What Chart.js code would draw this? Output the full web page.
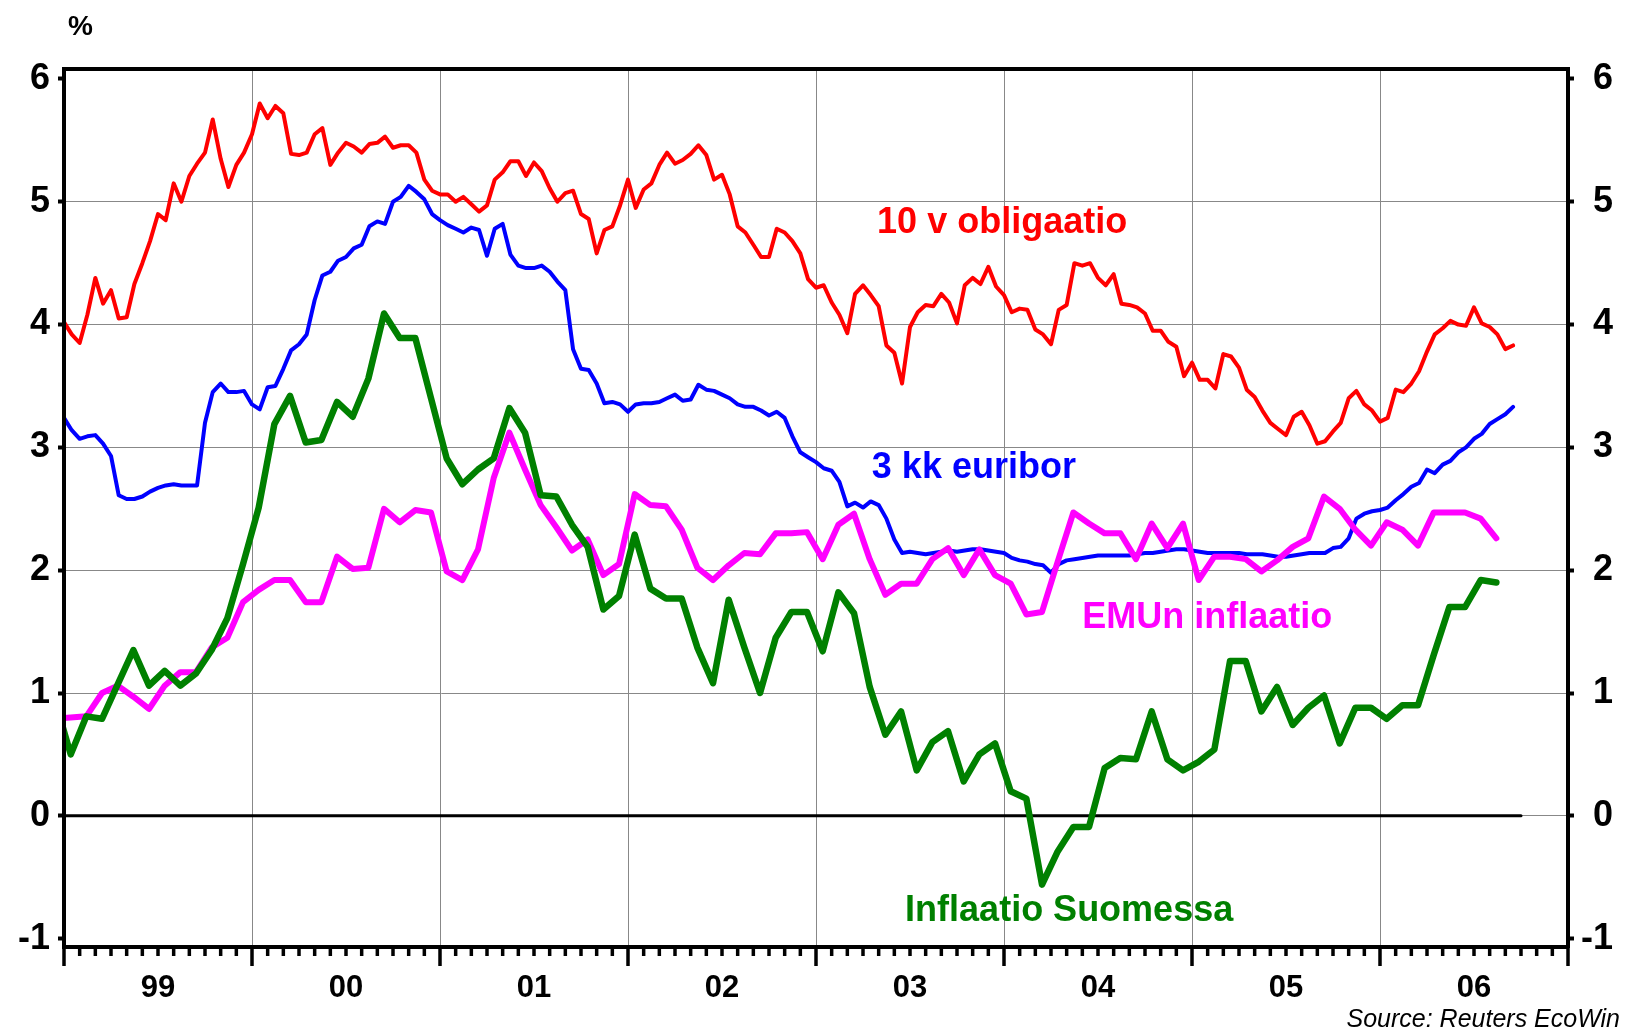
<!DOCTYPE html>
<html>
<head>
<meta charset="utf-8">
<script src="https://cdn.jsdelivr.net/npm/chart.js@4.4.1/dist/chart.umd.min.js"></script>
<style>
  body { margin: 0; background: #fff; }
  canvas { display: block; }
</style>
</head>
<body>
<canvas id="rates" width="1630" height="1032"></canvas>
<script>
const yearLabels = ['99', '00', '01', '02', '03', '04', '05', '06'];
const yTicks = [-1, 0, 1, 2, 3, 4, 5, 6];

// 10 v obligaatio, 1st and 16th of each month from Jan 1999
const bond10y = [
  4.02, 3.92, 3.85, 4.08, 4.38, 4.17, 4.28, 4.05, 4.06, 4.33, 4.50, 4.68,
  4.90, 4.85, 5.15, 5.00, 5.21, 5.31, 5.40, 5.67, 5.35, 5.12, 5.30, 5.40,
  5.55, 5.80, 5.68, 5.78, 5.72, 5.39, 5.38, 5.40, 5.55, 5.60, 5.30, 5.40,
  5.48, 5.45, 5.40, 5.47, 5.48, 5.53, 5.44, 5.46, 5.46, 5.40, 5.18, 5.09,
  5.06, 5.06, 5.00, 5.04, 4.98, 4.92, 4.97, 5.18, 5.24, 5.33, 5.33, 5.21,
  5.32, 5.25, 5.11, 5.00, 5.07, 5.09, 4.90, 4.86, 4.58, 4.77, 4.80, 4.97,
  5.18, 4.95, 5.10, 5.15, 5.30, 5.40, 5.31, 5.34, 5.39, 5.46, 5.38, 5.18,
  5.22, 5.06, 4.80, 4.75, 4.65, 4.55, 4.55, 4.78, 4.75, 4.68, 4.58, 4.37,
  4.30, 4.32, 4.18, 4.08, 3.93, 4.25, 4.32, 4.24, 4.15, 3.83, 3.77, 3.52,
  3.98, 4.10, 4.16, 4.15, 4.25, 4.18, 4.01, 4.32, 4.38, 4.33, 4.47, 4.31,
  4.24, 4.10, 4.13, 4.12, 3.96, 3.92, 3.84, 4.12, 4.16, 4.50, 4.48, 4.50,
  4.38, 4.32, 4.41, 4.17, 4.16, 4.14, 4.09, 3.95, 3.95, 3.86, 3.82, 3.58,
  3.69, 3.55, 3.55, 3.48, 3.76, 3.74, 3.65, 3.47, 3.41, 3.30, 3.20, 3.15,
  3.10, 3.25, 3.29, 3.18, 3.03, 3.05, 3.13, 3.20, 3.40, 3.46, 3.35, 3.30,
  3.21, 3.24, 3.47, 3.45, 3.52, 3.62, 3.78, 3.92, 3.97, 4.03, 4.00, 3.99,
  4.14, 4.01, 3.98, 3.92, 3.80, 3.83
];

// 3 kk euribor, same dates
const euribor3m = [
  3.24, 3.14, 3.07, 3.09, 3.10, 3.03, 2.93, 2.61, 2.58, 2.58, 2.60, 2.64,
  2.67, 2.69, 2.70, 2.69, 2.69, 2.69, 3.20, 3.45, 3.52, 3.45, 3.45, 3.46,
  3.35, 3.31, 3.49, 3.50, 3.64, 3.79, 3.84, 3.92, 4.20, 4.40, 4.43, 4.52,
  4.55, 4.62, 4.65, 4.80, 4.84, 4.82, 5.00, 5.04, 5.13, 5.08, 5.02, 4.90,
  4.85, 4.81, 4.78, 4.75, 4.79, 4.77, 4.56, 4.78, 4.82, 4.57, 4.48, 4.46,
  4.46, 4.48, 4.43, 4.35, 4.28, 3.80, 3.64, 3.63, 3.52, 3.36, 3.37, 3.35,
  3.29, 3.35, 3.36, 3.36, 3.37, 3.40, 3.43, 3.38, 3.39, 3.51, 3.47, 3.46,
  3.43, 3.40, 3.35, 3.33, 3.33, 3.30, 3.26, 3.29, 3.24, 3.09, 2.96, 2.92,
  2.88, 2.83, 2.81, 2.72, 2.52, 2.55, 2.51, 2.56, 2.53, 2.42, 2.25, 2.14,
  2.15, 2.14, 2.13, 2.14, 2.15, 2.16, 2.15, 2.16, 2.17, 2.17, 2.16, 2.15,
  2.14, 2.10, 2.08, 2.07, 2.05, 2.04, 1.98, 2.05, 2.08, 2.09, 2.10, 2.11,
  2.12, 2.12, 2.12, 2.12, 2.12, 2.13, 2.14, 2.14, 2.15, 2.16, 2.17, 2.17,
  2.16, 2.15, 2.14, 2.14, 2.14, 2.14, 2.14, 2.13, 2.13, 2.13, 2.12, 2.11,
  2.11, 2.12, 2.13, 2.14, 2.14, 2.14, 2.18, 2.19, 2.26, 2.42, 2.46, 2.48,
  2.49, 2.51, 2.57, 2.62, 2.68, 2.71, 2.82, 2.79, 2.86, 2.89, 2.96, 3.00,
  3.07, 3.11, 3.19, 3.23, 3.27, 3.33
];

// monthly inflation, Dec 1998 - Aug 2006
const inflationEmu = [
  0.79,
  0.80, 0.81, 1.00, 1.06, 0.97, 0.87, 1.06, 1.17, 1.17, 1.37, 1.45, 1.74,
  1.84, 1.92, 1.92, 1.74, 1.74, 2.11, 2.01, 2.02, 2.50, 2.39, 2.49, 2.47,
  1.99, 1.92, 2.17, 2.75, 3.12, 2.82, 2.53, 2.35, 2.16, 2.25, 1.96, 2.05,
  2.62, 2.53, 2.52, 2.33, 2.02, 1.92, 2.04, 2.14, 2.13, 2.30, 2.30, 2.31,
  2.09, 2.37, 2.46, 2.09, 1.80, 1.89, 1.89, 2.09, 2.18, 1.96, 2.17, 1.96,
  1.89, 1.64, 1.66, 2.07, 2.47, 2.38, 2.30, 2.30, 2.09, 2.38, 2.18, 2.38,
  1.92, 2.11, 2.11, 2.09, 1.99, 2.08, 2.19, 2.26, 2.60, 2.50, 2.33, 2.20,
  2.39, 2.33, 2.20, 2.47, 2.47, 2.47, 2.42, 2.26
];

const inflationFinland = [
  0.94,
  0.50, 0.81, 0.79, 1.07, 1.35, 1.06, 1.18, 1.06, 1.16, 1.35, 1.61, 2.05,
  2.51, 3.19, 3.42, 3.04, 3.06, 3.37, 3.25, 3.56, 4.09, 3.89, 3.89, 3.40,
  2.91, 2.70, 2.82, 2.91, 3.32, 3.12, 2.61, 2.60, 2.37, 2.19, 1.68, 1.79,
  2.29, 1.85, 1.77, 1.77, 1.37, 1.08, 1.76, 1.37, 1.00, 1.45, 1.66, 1.66,
  1.34, 1.82, 1.65, 1.05, 0.66, 0.85, 0.37, 0.60, 0.69, 0.28, 0.50, 0.59,
  0.20, 0.14, -0.56, -0.29, -0.09, -0.09, 0.39, 0.47, 0.46, 0.85, 0.46, 0.37,
  0.44, 0.54, 1.26, 1.26, 0.85, 1.05, 0.74, 0.88, 0.98, 0.59, 0.88, 0.88,
  0.79, 0.90, 0.90, 1.31, 1.70, 1.70, 1.92, 1.90
];

// zero reference runs as far as the daily data
const zeroLine = [1999.0, 2006.75];

const seriesLabels = [
  { text: '10 v obligaatio', color: '#ff0000', x: 2003.325, y: 4.747 },
  { text: '3 kk euribor', color: '#0000ff', x: 2003.297, y: 2.752 },
  { text: 'EMUn inflaatio', color: '#ff00ff', x: 2004.416, y: 1.531 },
  { text: 'Inflaatio Suomessa', color: '#008000', x: 2003.474, y: -0.855 }
];

// dates as fractional years
const halfMonthX = k => 1999 + (Math.floor(k / 2) + (k % 2 ? 15 / 30.44 : 0)) / 12;
const monthX = j => 1998 + (11 + j + 13 / 30.44) / 12;
const toPoints = (vals, xf) => vals.map((v, i) => ({ x: xf(i), y: v }));

const FONT = "'Liberation Sans', Arial, sans-serif";
const GRID = '#888888';

function line(label, data, color, width) {
  return {
    label: label,
    data: data,
    borderColor: color,
    borderWidth: width,
    pointRadius: 0,
    tension: 0,
    borderJoinStyle: 'round',
    borderCapStyle: 'round',
    clip: 0
  };
}

const extras = {
  id: 'extras',
  afterDatasetsDraw(chart) {
    const ctx = chart.ctx;
    const xs = chart.scales.x, ys = chart.scales.y;
    ctx.save();
    ctx.font = 'bold 36px ' + FONT;
    ctx.textAlign = 'left';
    ctx.textBaseline = 'alphabetic';
    seriesLabels.forEach(l => {
      ctx.fillStyle = l.color;
      ctx.fillText(l.text, xs.getPixelForValue(l.x), ys.getPixelForValue(l.y));
    });
    ctx.restore();
  },
  afterDraw(chart) {
    const ctx = chart.ctx;
    const area = chart.chartArea;
    const xs = chart.scales.x;
    ctx.save();
    // top frame
    ctx.strokeStyle = '#000';
    ctx.lineWidth = 4;
    ctx.beginPath();
    ctx.moveTo(area.left - 2, area.top);
    ctx.lineTo(area.right + 2, area.top);
    ctx.stroke();
    // monthly ticks under the time axis, longer ones at year change
    ctx.lineWidth = 3.5;
    for (let i = 0; i <= 96; i++) {
      const px = xs.getPixelForValue(1999 + i / 12);
      const len = i % 12 === 0 ? 19 : 9;
      ctx.beginPath();
      ctx.moveTo(px, area.bottom);
      ctx.lineTo(px, area.bottom + len);
      ctx.stroke();
    }
    ctx.fillStyle = '#000';
    ctx.font = 'bold 28px ' + FONT;
    ctx.textAlign = 'left';
    ctx.fillText('%', 68, 35);
    ctx.font = 'italic 25px ' + FONT;
    ctx.textAlign = 'right';
    ctx.fillText('Source: Reuters EcoWin', 1620, 1027);
    ctx.restore();
  }
};

const yTickFont = { family: FONT, size: 36, weight: 'bold' };
const setYTicks = s => { s.ticks = yTicks.map(v => ({ value: v })); };

new Chart(document.getElementById('rates'), {
  type: 'line',
  data: {
    datasets: [
      line('Inflaatio Suomessa', toPoints(inflationFinland, monthX), '#008000', 6.5),
      line('EMUn inflaatio', toPoints(inflationEmu, monthX), '#ff00ff', 6),
      line('3 kk euribor', toPoints(euribor3m, halfMonthX), '#0000ff', 4),
      line('10 v obligaatio', toPoints(bond10y, halfMonthX), '#ff0000', 4),
      line('', zeroLine.map(x => ({ x: x, y: 0 })), '#000000', 3)
    ]
  },
  options: {
    responsive: false,
    animation: false,
    devicePixelRatio: 1,
    layout: { padding: { top: 69, right: 17, left: 0, bottom: 0 } },
    plugins: { legend: { display: false }, tooltip: { enabled: false } },
    scales: {
      x: {
        type: 'linear',
        position: 'bottom',
        bounds: 'data',
        min: 1999,
        max: 2007,
        afterBuildTicks: s => { s.ticks = yearLabels.map((_, i) => ({ value: 1999.5 + i })); },
        afterFit: s => { s.height = 85; },
        grid: { offset: true, color: GRID, lineWidth: 1, drawTicks: false },
        border: { color: '#000', width: 4, z: 1 },
        ticks: {
          callback: (v, i) => yearLabels[i],
          font: { family: FONT, size: 31, weight: 'bold' },
          color: '#000',
          padding: 23,
          maxRotation: 0,
          autoSkip: false
        }
      },
      y: {
        type: 'linear',
        position: 'left',
        bounds: 'data',
        min: -1.068,
        max: 6.081,
        afterBuildTicks: setYTicks,
        afterFit: s => { s.width = 64; },
        grid: {
          color: c => (c.tick && (c.tick.value === 6 || c.tick.value === -1)) ? 'rgba(0,0,0,0)' : GRID,
          lineWidth: 1,
          tickColor: '#000',
          tickLength: 6,
          tickWidth: 4
        },
        border: { color: '#000', width: 4, z: 1 },
        ticks: { font: yTickFont, color: '#000', padding: 8, crossAlign: 'near' }
      },
      y2: {
        type: 'linear',
        position: 'right',
        bounds: 'data',
        min: -1.068,
        max: 6.081,
        afterBuildTicks: setYTicks,
        afterFit: s => { s.width = 45; },
        grid: { drawOnChartArea: false, tickColor: '#000', tickLength: 6, tickWidth: 4 },
        border: { color: '#000', width: 4, z: 1 },
        ticks: { font: yTickFont, color: '#000', crossAlign: 'far' }
      }
    }
  },
  plugins: [extras]
});
</script>
</body>
</html>
